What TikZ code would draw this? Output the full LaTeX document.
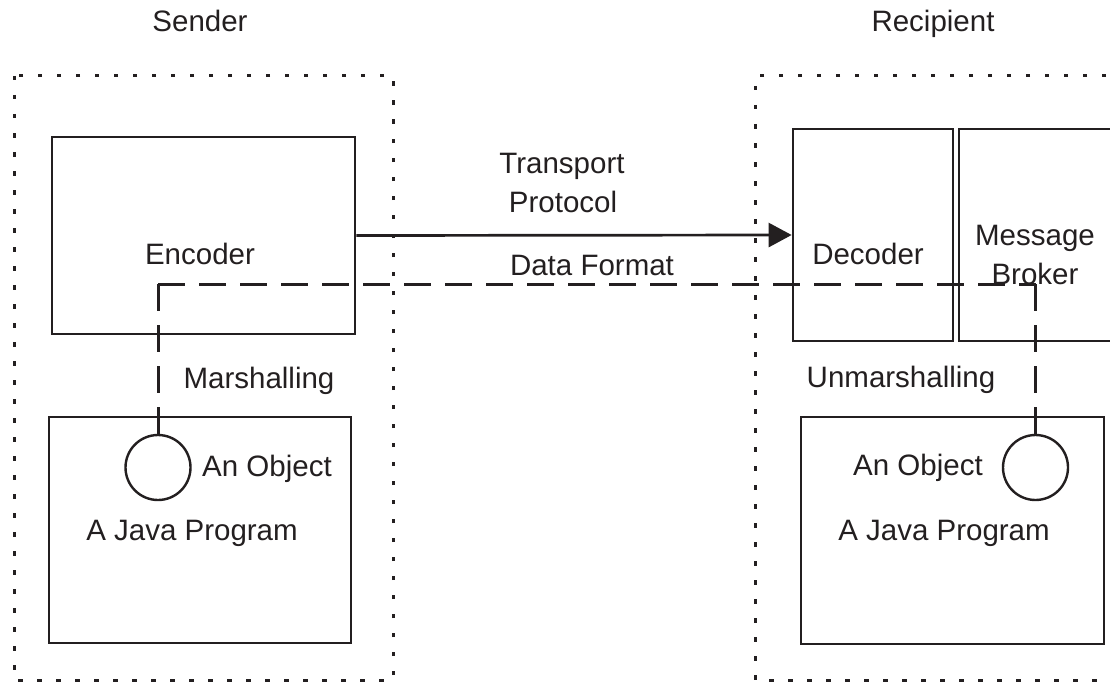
\documentclass[tikz,border=0pt]{standalone}
\usepackage{fontspec}
\setmainfont{Liberation Sans}
\usetikzlibrary{arrows.meta}
\definecolor{ink}{HTML}{231F20}
\begin{document}
\begin{tikzpicture}[x=1pt,y=-1pt,
  box/.style={draw=ink,line width=2.7pt,rectangle,inner sep=0pt,line join=miter},
  zone/.style={draw=ink,line width=3pt,dash pattern=on 4.5pt off 14.5pt,line cap=butt},
  dline/.style={draw=ink,line width=3pt,dash pattern=on 27pt off 14pt},
  obj/.style={draw=ink,line width=2.4pt,circle,minimum size=65pt,inner sep=0pt},
  lbl/.style={text=ink,anchor=base,inner sep=0pt,font=\fontsize{29.5}{33}\selectfont},
  arr/.style={draw=ink,line width=2.7pt,-{Triangle[length=23pt,width=24pt]}}]
\useasboundingbox (0,0) rectangle (1110,682);
% zones
\draw[zone] (14,76) rectangle (393,680);
\draw[zone] (1125,76) -- (755,76) -- (755,680) -- (1125,680);
% boxes
\node[box,minimum width=303pt,minimum height=197pt] (enc) at (203.5,235.5) {};
\node[box,minimum width=160pt,minimum height=212pt] (dec) at (873,235) {};
\node[box,minimum width=166pt,minimum height=212pt] (brk) at (1042,235) {};
\node[box,minimum width=302pt,minimum height=226pt] (ljava) at (200,530) {};
\node[box,minimum width=303pt,minimum height=227pt] (rjava) at (952.5,530.5) {};
\node[obj] (lobj) at (158,467.5) {};
\node[obj] (robj) at (1035.5,467.5) {};
% connectors
\draw[arr] (enc.east) -- (dec.west);
\coordinate (c1) at (158,284);
\coordinate (c2) at (1035.5,284);
\draw[dline] (c1) -- (lobj.north);
\draw[dline] (c1) -- (c2);
\draw[dline] (c2) -- (robj.north);
% labels
\node[lbl] (tsend) at (200,32) {Sender};
\node[lbl] (trec) at (933,32) {Recipient};
\node[lbl] (ttr) at (562,173) {Transport};
\node[lbl] (tpr) at (563,212) {Protocol};
\node[lbl] (tdf) at (592,275) {Data Format};
\node[lbl] (tenc) at (200,264) {Encoder};
\node[lbl] (tdec) at (868,264) {Decoder};
\node[lbl] (tmsg) at (1035,245) {Message};
\node[lbl] (tbrk) at (1035,284) {Broker};
\node[lbl] (tmar) at (259,388) {Marshalling};
\node[lbl] (tlobj) at (267,476) {An Object};
\node[lbl] (tljp) at (192,540) {A Java Program};
\node[lbl] (tunm) at (901,387) {Unmarshalling};
\node[lbl] (trobj) at (918,475) {An Object};
\node[lbl] (trjp) at (944,540) {A Java Program};
\end{tikzpicture}
\end{document}
